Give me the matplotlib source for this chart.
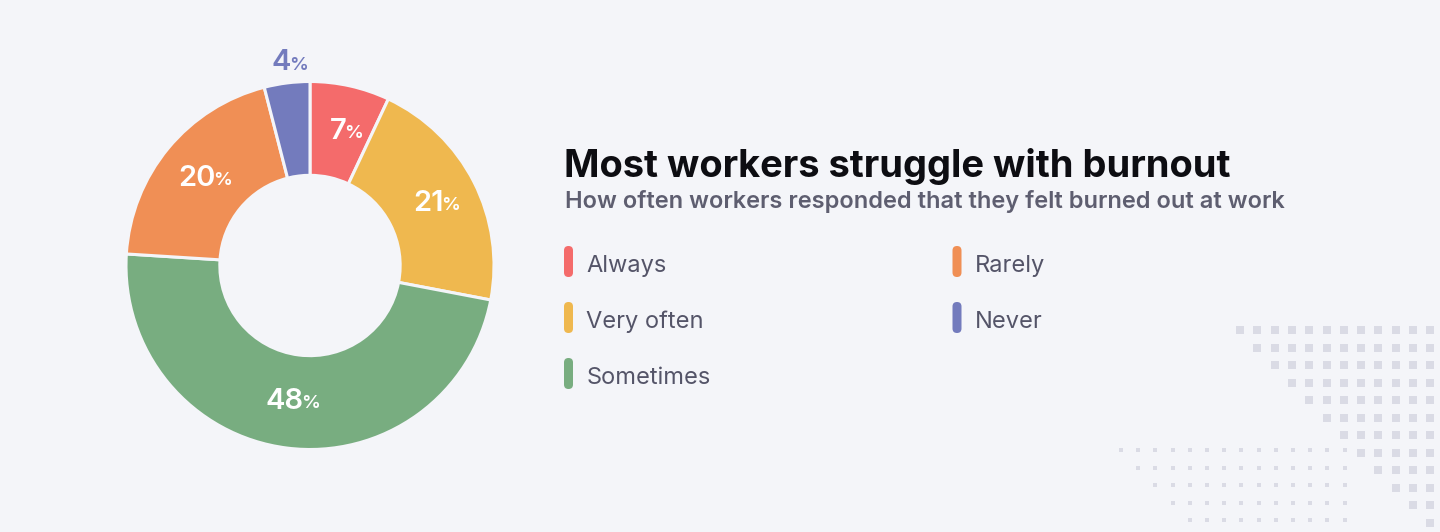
import matplotlib
matplotlib.use("Agg")
import numpy as np
import matplotlib.pyplot as plt
from matplotlib.patches import FancyBboxPatch
from matplotlib.transforms import offset_copy

# --- data ---
categories = ["Always", "Very often", "Sometimes", "Rarely", "Never"]
shares = [7, 21, 48, 20, 4]
colors = ["#f46b6b", "#efb84f", "#78ad80", "#f08f55", "#737bbd"]

title = "Most workers struggle with burnout"
subtitle = "How often workers responded that they felt burned out at work"

BG = "#f4f5f9"
W, H = 1440, 532

fig = plt.figure(figsize=(W / 100, H / 100), dpi=100, facecolor=BG)

# full-figure pixel axes for text, legend and decoration
ax = fig.add_axes([0, 0, 1, 1])
ax.set_xlim(0, W)
ax.set_ylim(H, 0)
ax.axis("off")
ax.set_facecolor(BG)

# --- decorative square grids (bottom right) ---
big_x, big_y = [], []
for r in range(12):
    for c in range(r, 12):
        big_x.append(1240 + c * 17.3)
        big_y.append(330 + r * 17.5)
ax.scatter(big_x, big_y, marker="s", s=28, color="#dadbe5", linewidths=0, zorder=1)

small_x, small_y = [], []
for r in range(5):
    for c in range(r, 14):
        small_x.append(1121 + c * 17.2)
        small_y.append(450 + r * 17.5)
ax.scatter(small_x, small_y, marker="s", s=9, color="#dadbe5", linewidths=0, zorder=1)

# --- donut ---
cx, cy, R = 310, 265.5, 184
pax = fig.add_axes([(cx - R) / W, (H - cy - R) / H, 2 * R / W, 2 * R / H])
wedges, _ = pax.pie(shares, colors=colors, startangle=90, counterclock=False,
                    radius=1, wedgeprops=dict(width=0.51, edgecolor=BG, linewidth=2.2))
pax.set_xlim(-1, 1)
pax.set_ylim(-1, 1)
pax.set_aspect("equal")
pax.axis("off")

start = 90.0
for val, col in zip(shares, colors):
    mid = np.deg2rad(start - val * 3.6 / 2)
    start -= val * 3.6
    if val < 5:
        r, tc = 1.11, col
    else:
        r, tc = 0.745, "white"
    x, y = r * np.cos(mid), r * np.sin(mid)
    num = str(val)
    shift = 5 if len(num) == 1 else 8
    t_num = offset_copy(pax.transData, fig=fig, x=shift, y=0, units="points")
    pax.text(x, y, num, transform=t_num, ha="right", va="center", fontsize=21,
             fontweight="semibold", family="Inter", color=tc)
    t_pct = offset_copy(pax.transData, fig=fig, x=shift - 1.8, y=-1.6, units="points")
    pax.text(x, y, "%", transform=t_pct, ha="left", va="center", fontsize=13.5,
             fontweight="semibold", family="Inter", color=tc)

# --- title / subtitle ---
ax.text(564, 177, title, ha="left", va="baseline", fontsize=27.4, fontweight="bold",
        family="Inter", color="#0d0d12")
ax.text(565, 208, subtitle, ha="left", va="baseline", fontsize=17, fontweight="semibold",
        family="Inter", color="#5e5e70")

# --- legend ---
leg_x = [568.5, 568.5, 568.5, 957, 957]
leg_y = [261.5, 317.5, 373.5, 261.5, 317.5]
for name, col, lx, ly in zip(categories, colors, leg_x, leg_y):
    ax.add_patch(FancyBboxPatch((lx - 4.5, ly - 15.5), 9, 31,
                                boxstyle="round,pad=0,rounding_size=4.5",
                                facecolor=col, edgecolor="none"))
    ax.text(lx + 18, ly + 10.5, name, ha="left", va="baseline", fontsize=17,
            family="Inter", color="#545468")

fig.savefig("out.png", dpi=100, facecolor=BG)
